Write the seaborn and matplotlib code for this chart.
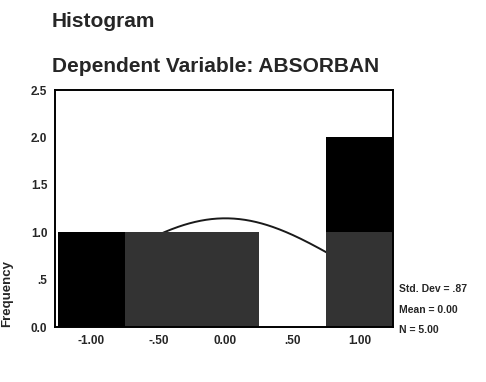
import numpy as np
import pandas as pd
import matplotlib.pyplot as plt
import seaborn as sns

# residual histogram (bin width .50)
bin_centres = [-1.0, -0.5, 0.0, 0.5, 1.0]
bin_edges = [-1.25, -0.75, -0.25, 0.25, 0.75, 1.25]
counts_black = [1, 0, 0, 0, 1]   # part of each bar that came out black in the scan
counts_dark = [0, 1, 1, 0, 1]    # part that came out dark grey

std_dev = 0.87
mean = 0.0
n = 5

x_ticks = [-1.0, -0.5, 0.0, 0.5, 1.0]
x_labels = ['-1.00', '-.50', '0.00', '.50', '1.00']
y_ticks = [0.0, 0.5, 1.0, 1.5, 2.0, 2.5]
y_labels = ['0.0', '.5', '1.0', '1.5', '2.0', '2.5']

sns.set_style('white')
plt.rcParams['font.family'] = ['Liberation Sans', 'DejaVu Sans']

df = pd.DataFrame({
    'resid': bin_centres * 2,
    'count': counts_black + counts_dark,
    'tone': ['black'] * 5 + ['dark'] * 5,
})

fig = plt.figure(figsize=(4.86, 3.82), dpi=100)
ax = fig.add_axes([55 / 486, 1 - 327 / 382, (393 - 55) / 486, (327 - 90) / 382])

# normal curve (expected frequency), drawn behind the bars like SPSS
width = bin_edges[1] - bin_edges[0]
xs = np.linspace(bin_edges[0] + 0.02, bin_edges[-1], 300)
ys = n * width * np.exp(-0.5 * ((xs - mean) / std_dev) ** 2) / (std_dev * np.sqrt(2 * np.pi))
sns.lineplot(x=xs, y=ys, color='#1a1a1a', linewidth=1.4, zorder=0.5, ax=ax)

sns.histplot(data=df, x='resid', weights='count', hue='tone', hue_order=['black', 'dark'],
             multiple='stack', bins=bin_edges, palette={'black': '#000000', 'dark': '#333333'},
             alpha=1, linewidth=0, legend=False, ax=ax)

ax.set_xlim(-1.27, 1.25)
ax.set_ylim(0, 2.5)
ax.set_xticks(x_ticks)
ax.set_xticklabels(x_labels)
ax.set_yticks(y_ticks)
ax.set_yticklabels(y_labels)
ax.tick_params(direction='out', length=2.5, width=1.5, labelsize=8.5, pad=3)
for lab in ax.get_xticklabels() + ax.get_yticklabels():
    lab.set_fontweight('bold')
ax.set_xlabel('')
ax.set_ylabel('Frequency', fontsize=9.5, fontweight='bold')
ax.yaxis.set_label_coords(-0.125, 0.14)
for sp in ax.spines.values():
    sp.set_color('black')
    sp.set_linewidth(1.4)

fig.text(52 / 486, 1 - 27 / 382, 'Histogram', fontsize=15, fontweight='bold', va='baseline')
fig.text(52 / 486, 1 - 72 / 382, 'Dependent Variable: ABSORBAN', fontsize=15, fontweight='bold', va='baseline')

fig.text(399 / 486, 1 - 289 / 382, f'Std. Dev = {std_dev:.2f}'.replace('0.', '.'), fontsize=7.5, fontweight='bold', va='center')
fig.text(399 / 486, 1 - 310 / 382, f'Mean = {mean:.2f}', fontsize=7.5, fontweight='bold', va='center')
fig.text(399 / 486, 1 - 330 / 382, f'N = {n:.2f}', fontsize=7.5, fontweight='bold', va='center')

fig.savefig('out.png', dpi=100)
